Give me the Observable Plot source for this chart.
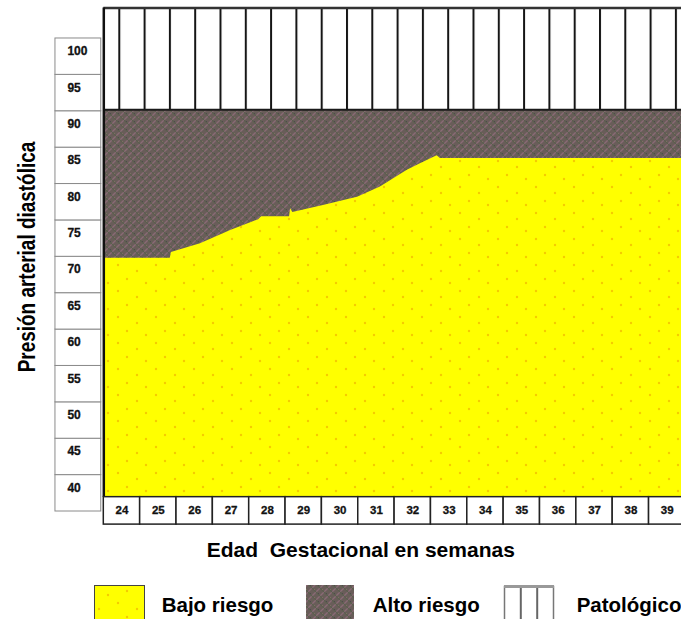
<!DOCTYPE html>
<html><head><meta charset="utf-8">
<script src="https://cdn.jsdelivr.net/npm/d3@7"></script>
<script src="https://cdn.jsdelivr.net/npm/@observablehq/plot@0.6"></script>
<style>
html,body{margin:0;padding:0;background:#fff;overflow:hidden;}
#wrap{position:relative;width:681px;height:619px;}
#wrap svg{position:absolute;left:0;top:0;}
</style></head><body><div id="wrap"></div>
<script>
// ---- data ----
const weeks = [24, 25, 26, 27, 28, 29, 30, 31, 32, 33, 34, 35, 36, 37, 38, 39];
const bpTicks = [40, 45, 50, 55, 60, 65, 70, 75, 80, 85, 90, 95, 100];
// upper edge of "Bajo riesgo" (yellow) region
const boundaryWeek = [23.5, 25.33, 25.36, 26.16, 26.99, 27.76, 27.84, 28.61, 28.64, 28.70, 29.54, 30.48, 31.11, 31.85, 32.21, 32.67, 32.76, 39.5];
const boundaryBP   = [69.8, 69.8, 70.6, 71.8, 73.6, 75.1, 75.5, 75.5, 76.6, 76.1, 77.05, 78.2, 79.6, 81.9, 82.8, 83.9, 83.5, 83.5];
const altoRiesgoTop = 90.2;   // upper edge of "Alto riesgo" (brown)
const chartTopBP = 104.2;
const chartBottomBP = 36.97;
const axisBoxBottomBP = 33.2;
const legendLabels = ["Bajo riesgo", "Alto riesgo", "Patológico"];
const xTitle = "Edad  Gestacional en semanas";
const yTitle = "Presión arterial diastólica";

const FONT = "Liberation Sans, Arial, sans-serif";
const boundary = boundaryWeek.map((w, i) => ({week: w, bp: boundaryBP[i]}));
const xMin = 23.5, xMax = 39.5;
const yBoxX1 = 22.17, yBoxX2 = 23.43, yBoxTextX = 22.5;

const chart = Plot.plot({
  width: 681, height: 619, margin: 0,
  x: {type: "linear", domain: [23.5, 39.5], range: [103.3, 684.9], axis: null},
  y: {type: "linear", domain: [35, 105], range: [511, 1.6], axis: null},
  marks: [
    // Patológico region
    Plot.rect([0], {x1: xMin, x2: xMax, y1: altoRiesgoTop, y2: chartTopBP, fill: "url(#patPat)"}),
    // Alto riesgo region
    Plot.rect([0], {x1: xMin, x2: xMax, y1: chartBottomBP, y2: altoRiesgoTop, fill: "url(#altoPat)"}),
    // Bajo riesgo region
    Plot.areaY(boundary, {x: "week", y1: chartBottomBP, y2: "bp", fill: "url(#bajoPat)", curve: "linear"}),
    Plot.ruleY([altoRiesgoTop], {x1: xMin, x2: xMax, stroke: "#1a1a1a", strokeWidth: 2}),
    Plot.ruleY([chartTopBP], {x1: xMin, x2: xMax, stroke: "#333", strokeWidth: 2.5}),
    Plot.ruleX([xMin], {y1: chartBottomBP, y2: chartTopBP, stroke: "#111", strokeWidth: 2.5}),
    // y-axis boxes
    Plot.rect(bpTicks, {x1: yBoxX1, x2: yBoxX2, y1: d => d - 5, y2: d => d, fill: "white", stroke: "#8a8a8a", strokeWidth: 1}),
    Plot.text(bpTicks, {x: yBoxTextX, y: d => d - 1.76, text: d => String(d), textAnchor: "start", fontFamily: FONT, fontWeight: "bold", fontSize: 12, fill: "#111", stroke: "#111", strokeWidth: 0.3}),
    // x-axis boxes
    Plot.rect(weeks, {x1: d => d - 0.5, x2: d => d + 0.5, y1: chartBottomBP, y2: axisBoxBottomBP, fill: "white", stroke: "#222", strokeWidth: 1.5}),
    Plot.text(weeks, {x: d => d, y: 35.14, text: d => String(d), fontFamily: FONT, fontWeight: "bold", fontSize: 11.5, fill: "#111", stroke: "#111", strokeWidth: 0.3})
  ]
});

const svg = d3.select(chart);
const defs = svg.insert("defs", ":first-child");
// yellow with faint orange dots
const pb = defs.append("pattern").attr("id", "bajoPat").attr("patternUnits", "userSpaceOnUse")
  .attr("width", 38).attr("height", 26);
pb.append("rect").attr("width", 38).attr("height", 26).attr("fill", "#ffff00");
[[4, 5], [23, 11], [13, 19], [32, 23]].forEach(([cx, cy]) =>
  pb.append("circle").attr("cx", cx).attr("cy", cy).attr("r", 1.2).attr("fill", "#f0b800").attr("opacity", 0.75));
// brown woven texture
const pa = defs.append("pattern").attr("id", "altoPat").attr("patternUnits", "userSpaceOnUse")
  .attr("width", 8).attr("height", 8);
pa.append("rect").attr("width", 8).attr("height", 8).attr("fill", "#695d59");
pa.append("path").attr("d", "M0,4 L4,0 M4,8 L8,4").attr("stroke", "#8a6a76").attr("stroke-width", 1.3);
pa.append("path").attr("d", "M0,4 L4,8 M4,0 L8,4").attr("stroke", "#5a5f4e").attr("stroke-width", 1.1);
pa.append("rect").attr("x", 2).attr("y", 5).attr("width", 1).attr("height", 1).attr("fill", "#7d6f62");
pa.append("rect").attr("x", 6).attr("y", 1).attr("width", 1).attr("height", 1).attr("fill", "#4f4a4e");
// vertical lines (patológico)
const pp = defs.append("pattern").attr("id", "patPat").attr("patternUnits", "userSpaceOnUse")
  .attr("x", 118.3).attr("y", 0).attr("width", 25.3).attr("height", 10);
pp.append("rect").attr("width", 25.3).attr("height", 10).attr("fill", "white");
pp.append("rect").attr("x", 0).attr("width", 2).attr("height", 10).attr("fill", "#151515");

// titles
svg.append("text").attr("x", 206.7).attr("y", 557.3).attr("text-anchor", "start").attr("font-family", FONT).attr("font-weight", "bold")
  .attr("font-size", 21).style("white-space", "pre").attr("fill", "#000").text(xTitle);
svg.append("text").attr("transform", "translate(34.5,257) rotate(-90) scale(0.79,1)").attr("text-anchor", "middle")
  .attr("font-family", FONT).attr("font-weight", "bold").attr("font-size", 24).attr("fill", "#000").text(yTitle);

// legend
const lg = svg.append("g");
lg.append("rect").attr("x", 94.5).attr("y", 585.5).attr("width", 50).attr("height", 40).attr("fill", "url(#bajoPat)").attr("stroke", "#444");
lg.append("rect").attr("x", 306).attr("y", 585).attr("width", 48).attr("height", 40).attr("fill", "url(#altoPat)");
lg.append("rect").attr("x", 504.5).attr("y", 586.5).attr("width", 49).attr("height", 40).attr("fill", "white").attr("stroke", "#777").attr("stroke-width", 1.5);
lg.append("line").attr("x1", 504).attr("x2", 554).attr("y1", 586.5).attr("y2", 586.5).attr("stroke", "#999").attr("stroke-width", 3);
[520.8, 537.2].forEach(x => lg.append("line").attr("x1", x).attr("x2", x).attr("y1", 588).attr("y2", 625).attr("stroke", "#666").attr("stroke-width", 2));
const legX = [161.7, 372.7, 576.7];
legendLabels.forEach((t, i) => lg.append("text").attr("x", legX[i]).attr("y", 612.3).attr("text-anchor", "start").attr("font-family", FONT)
  .attr("font-weight", "bold").attr("font-size", 20.5).attr("fill", "#000").text(t));

document.getElementById("wrap").appendChild(chart);
</script>
</body></html>
